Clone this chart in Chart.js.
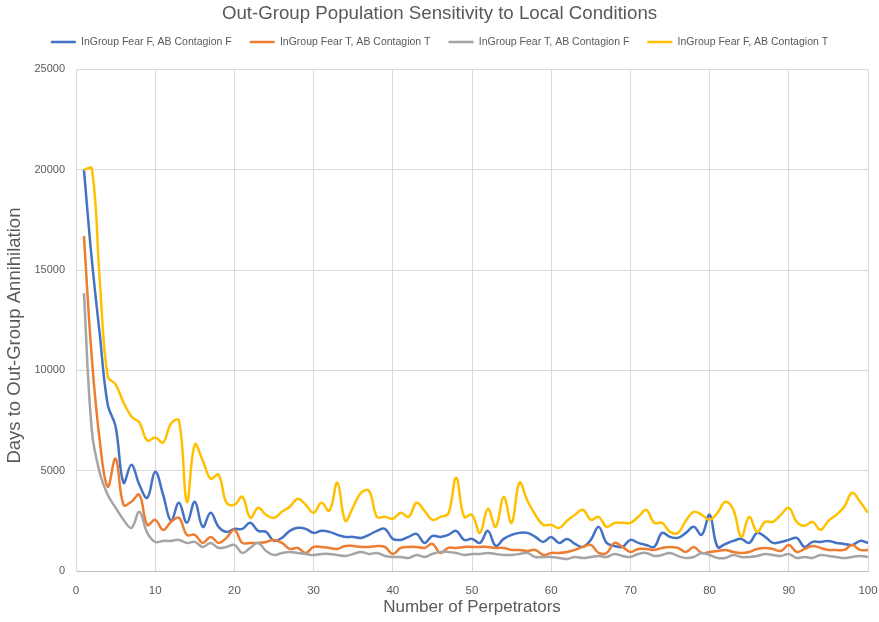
<!DOCTYPE html>
<html lang="en">
<head>
    <meta charset="UTF-8">
    <title>Out-Group Population Sensitivity to Local Conditions</title>
    <style>
        body {
            margin: 0;
            background-color: #fff;
        }
        .chart-box {
            width: 879px;
            height: 622px;
        }
    </style>
</head>
<body>
    <div class="chart-box">
        <canvas id="sensChart"></canvas>
    </div>

    <script src="https://cdn.jsdelivr.net/npm/chart.js"></script>
    <script>
        // Number of perpetrators (x values)
        const perpetrators = [
            1, 2, 3, 4, 5, 6, 7, 8, 9, 10, 11, 12, 13, 14, 15, 16, 17, 18, 19, 20,
            21, 22, 23, 24, 25, 26, 27, 28, 29, 30, 31, 32, 33, 34, 35, 36, 37, 38, 39, 40,
            41, 42, 43, 44, 45, 46, 47, 48, 49, 50, 51, 52, 53, 54, 55, 56, 57, 58, 59, 60,
            61, 62, 63, 64, 65, 66, 67, 68, 69, 70, 71, 72, 73, 74, 75, 76, 77, 78, 79, 80,
            81, 82, 83, 84, 85, 86, 87, 88, 89, 90, 91, 92, 93, 94, 95, 96, 97, 98, 99, 100
        ];

        // Days to out-group annihilation, one array per scenario
        const fearF_contF = [
            20000, 15500, 11800, 8300, 7200, 4400, 5300, 4300, 3650, 4950,
            3800, 2500, 3400, 2400, 3450, 2200, 2900, 2200, 1950, 2100,
            2100, 2400, 2000, 1950, 1500, 1650, 2000, 2150, 2100, 1900,
            2000, 1950, 1800, 1700, 1700, 1650, 1800, 2000, 2100, 1600,
            1550, 1700, 1850, 1400, 1750, 1700, 1800, 2000, 1550, 1600,
            1400, 2000, 1250, 1600, 1800, 1900, 1900, 1700, 1450, 1700,
            1400, 1600, 1350, 1200, 1550, 2200, 1400, 1250, 1200, 1550,
            1400, 1300, 1200, 1900, 1700, 1650, 1900, 2200, 1800, 2800,
            1200, 1350, 1500, 1600, 1400, 1900, 1700, 1400, 1450, 1550,
            1650, 1200, 1450, 1450, 1500, 1400, 1350, 1300, 1500, 1400
        ];
        const fearT_contT = [
            16700, 10600, 6500, 4200, 5600, 3300, 3450, 3800, 2300, 2550,
            2050, 2450, 2650, 1800, 1800, 1400, 1700, 1400, 1650, 2050,
            1400, 1400, 1400, 1450, 1550, 1400, 1100, 1150, 900, 1200,
            1200, 1150, 1100, 1250, 1250, 1200, 1200, 1250, 1200, 850,
            1150, 1200, 1200, 1150, 1350, 900, 1150, 1150, 1200, 1200,
            1200, 1200, 1150, 1150, 1050, 1050, 1000, 1050, 800, 900,
            900, 950, 1050, 1200, 1300, 900, 900, 1400, 1200, 950,
            1100, 1100, 1050, 1150, 1200, 1150, 950, 1200, 900, 950,
            1000, 1050, 950, 900, 950, 1100, 1150, 1100, 1000, 1300,
            950, 1100, 1250, 1150, 1050, 1050, 1050, 1300, 1050, 1050
        ];
        const fearT_contF = [
            13850, 7000, 4900, 3800, 3150, 2550, 2150, 2950, 1900, 1450,
            1500, 1500, 1550, 1400, 1450, 1200, 1400, 1150, 1200, 1300,
            900, 1150, 1400, 1000, 800, 900, 950, 900, 850, 800,
            850, 850, 800, 750, 850, 950, 850, 900, 750, 700,
            700, 650, 800, 700, 850, 950, 950, 900, 800, 850,
            850, 900, 850, 800, 800, 850, 900, 700, 700, 700,
            650, 600, 700, 650, 700, 750, 700, 850, 750, 700,
            850, 900, 750, 800, 900, 750, 650, 700, 900, 800,
            650, 650, 800, 700, 700, 750, 850, 800, 750, 850,
            650, 700, 650, 800, 750, 700, 650, 700, 750, 700
        ];
        const fearF_contT = [
            20000, 20050, 14500, 9700, 9300, 8400, 7700, 7400, 6500, 6650,
            6400, 7350, 7500, 3450, 6300, 5500, 4600, 4800, 3400, 3300,
            3700, 2650, 3150, 2800, 2650, 2950, 3200, 3600, 3300, 2900,
            3400, 3000, 4400, 2500, 3200, 3900, 4000, 2700, 2700, 2600,
            2900, 2700, 3400, 3000, 2550, 2700, 2850, 4650, 2700, 2800,
            1900, 3100, 2200, 3700, 2400, 4400, 3500, 2800, 2300, 2300,
            2150, 2500, 2800, 3050, 2550, 2700, 2200, 2400, 2400, 2400,
            2700, 3050, 2400, 2400, 1950, 1900, 2500, 2950, 2800, 2550,
            2900, 3450, 3050, 1700, 2700, 1950, 2450, 2450, 2800, 3150,
            2450, 2250, 2450, 2050, 2500, 2800, 3200, 3900, 3450, 2900
        ];

        const seriesNames = [
            'InGroup Fear F, AB Contagion F',
            'InGroup Fear T, AB Contagion T',
            'InGroup Fear T, AB Contagion F',
            'InGroup Fear F, AB Contagion T'
        ];
        const seriesColors = ['#4472C4', '#ED7D31', '#A5A5A5', '#FFC000'];
        const seriesValues = [fearF_contF, fearT_contT, fearT_contF, fearF_contT];

        const xTicks = [0, 10, 20, 30, 40, 50, 60, 70, 80, 90, 100];
        const yTicks = [0, 5000, 10000, 15000, 20000, 25000];

        const fontName = "'Liberation Sans Narrow', 'Arial Narrow', 'Liberation Sans', sans-serif";
        const textGray = '#595959';
        const gridGray = '#d9d9d9';

        // pair x values with each series
        function toPoints(values) {
            return values.map((v, i) => ({ x: perpetrators[i], y: v }));
        }

        const datasets = seriesValues.map((vals, i) => ({
            label: seriesNames[i],
            data: toPoints(vals),
            borderColor: seriesColors[i],
            backgroundColor: seriesColors[i],
            borderWidth: 2.5,
            pointRadius: 0,
            tension: 0.4,
            fill: false,
            order: seriesValues.length - i   // later series on top, like Excel
        }));

        // legend height fix so the plot area starts where the original does
        const legendHeightFix = {
            id: 'legendHeightFix',
            beforeUpdate(chart) {
                const lg = chart.legend;
                if (lg && !lg._fixed) {
                    const origFit = lg.fit.bind(lg);
                    lg.fit = function () {
                        origFit();
                        this.height = 50.5;
                    };
                    lg._fixed = true;
                }
            }
        };

        let ctx = document.getElementById('sensChart').getContext('2d');
        let sensChart = new Chart(ctx, {
            type: 'line',
            data: { datasets: datasets },
            plugins: [legendHeightFix],
            options: {
                responsive: true,
                maintainAspectRatio: false,
                animation: false,
                layout: {
                    padding: { left: 0, right: 0, top: 0, bottom: 0 }
                },
                plugins: {
                    title: {
                        display: true,
                        text: 'Out-Group Population Sensitivity to Local Conditions',
                        color: textGray,
                        font: { family: fontName, size: 18.7, weight: 'normal', lineHeight: 0.5 },
                        padding: { top: 9.5, bottom: 0 }
                    },
                    legend: {
                        display: true,
                        position: 'top',
                        labels: {
                            color: textGray,
                            font: { family: fontName, size: 10.5 },
                            usePointStyle: true,
                            pointStyle: 'line',
                            pointStyleWidth: 25,
                            padding: 18,
                            sort: (a, b) => a.datasetIndex - b.datasetIndex
                        }
                    },
                    tooltip: { enabled: false }
                },
                scales: {
                    x: {
                        type: 'linear',
                        min: 0,
                        max: 100,
                        afterBuildTicks: (scale) => {
                            scale.ticks = xTicks.map(v => ({ value: v }));
                        },
                        afterFit: (scale) => {
                            scale.height = 51;
                            scale.paddingLeft = 0;
                            scale.paddingRight = 11;
                        },
                        grid: { color: gridGray, lineWidth: 1, drawTicks: false },
                        border: { color: '#bfbfbf', width: 1 },
                        ticks: {
                            color: textGray,
                            font: { family: fontName, size: 11.5 },
                            padding: 13,
                            maxRotation: 0
                        },
                        title: {
                            display: true,
                            text: 'Number of Perpetrators',
                            color: textGray,
                            font: { family: fontName, size: 17 },
                            padding: { top: 0, bottom: 4 }
                        }
                    },
                    y: {
                        min: 0,
                        max: 25000,
                        afterBuildTicks: (scale) => {
                            scale.ticks = yTicks.map(v => ({ value: v }));
                        },
                        afterFit: (scale) => { scale.width = 76; },
                        grid: { color: gridGray, lineWidth: 1, drawTicks: false },
                        border: { color: gridGray, width: 1 },
                        ticks: {
                            color: textGray,
                            font: { family: fontName, size: 11 },
                            padding: 11,
                            callback: (v) => String(v)
                        },
                        title: {
                            display: true,
                            // trailing spaces nudge the rotated title down a bit, as in the original
                            text: 'Days to Out-Group Annihilation      ',
                            color: textGray,
                            font: { family: fontName, size: 18.5 },
                            padding: { top: 4, bottom: 0 }
                        }
                    }
                }
            }
        });
    </script>
</body>
</html>
